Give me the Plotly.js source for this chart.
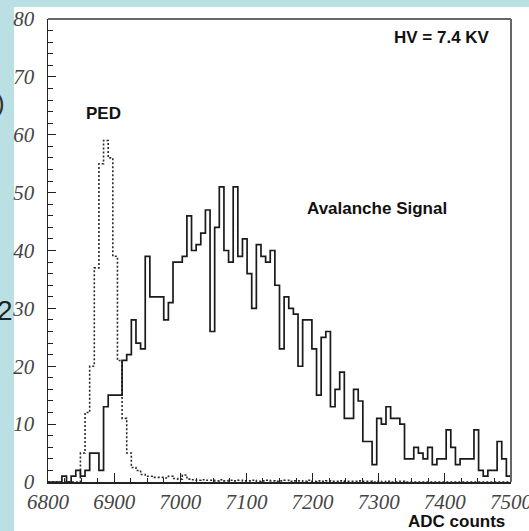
<!DOCTYPE html>
<html><head><meta charset="utf-8">
<script src="https://cdn.plot.ly/plotly-3.0.1.min.js"></script>
<style>html,body{margin:0;padding:0;background:#fff;}#chart{width:529px;height:531px;}</style>
</head><body><div id="chart"></div>
<script>
// ---- data ----
const xMin = 6800;
const binWidth = 7;
const avalancheCounts = [
  0,0,0,1,0,1,2,1,2,5,
  5,2,13,15,15,15,21,22,28,24,
  23,39,32,32,32,28,31,38,38,39,
  46,40,41,43,47,26,44,51,40,38,
  51,39,42,36,30,41,39,38,40,34,
  23,32,30,29,20,28,28,23,15,25,
  26,13,16,19,11,11,16,14,7,7,
  3,11,10,13,11,11,10,4,4,6,
  5,4,6,3,4,4,9,6,3,4,
  4,4,9,2,1,2,2,7,4,1
];
const pedCounts = [
  0,0,0,0,0,0,0,5,12,20,
  37,55,59,56,39,21,11,5,2.5,2,
  1.3,1.0,1.0,0.8,0.8,0.7,1.0,0.6,0.5,1.2,
  0.5,0.4,0.3,0.4,0.3,0.3,0.2,0.4,0.2,0.3,
  0.2,0.3,0.2,0.2,0.3,0.1,0.2,0.3,0.2,0.1,
  0.2,0.3,0.1,0.2,0.2,0.1,0.3,0.1,0.2,0.1,
  0.2,0.1,0.1,0.2,0.1,0.1,0.1,0.2,0.1,0.1,
  0,0.1,0,0.1,0,0,0.1,0,0,0,
  0,0,0,0,0,0,0,0,0,0,
  0,0,0,0,0,0,0,0,0,0
];
const xTickVals = [6800,6900,7000,7100,7200,7300,7400,7500];
const xTickText = ["6800","6900","7000","7100","7200","7300","7400","7500"];
const yTickVals = [0,10,20,30,40,50,60,70,80];
const yTickText = ["0","10","20","30","40","50","60","70","80"];
const labelPED = "PED";
const labelSignal = "Avalanche Signal";
const labelHV = "HV = 7.4 KV";
const labelX = "ADC counts";

// ---- build step histograms ----
function edgesFor(counts){
  const e = counts.map((_, i) => xMin + i*binWidth);
  e.push(xMin + counts.length*binWidth);
  return e;
}
function stepY(counts){ return counts.concat([counts[counts.length-1]]); }

const traces = [
  {x: edgesFor(pedCounts), y: stepY(pedCounts), type:'scatter', mode:'lines',
   line:{shape:'hv', color:'#2a2a2a', width:1.6, dash:'2px,2px'}, hoverinfo:'skip'},
  {x: edgesFor(avalancheCounts), y: stepY(avalancheCounts), type:'scatter', mode:'lines',
   line:{shape:'hv', color:'#1a1a1a', width:1.7}, hoverinfo:'skip'}
];

// pixel helpers for layout placement
const W=529, H=531, L=48, R=18, T=19, B=49;
const pw = W-L-R, ph = H-T-B;
const px = v => (v-L)/pw;
const py = v => (H-B-v)/ph;

const tickFont = {family:'Liberation Serif, Times New Roman, serif', size:21, style:'italic', color:'#444'};
const boldFont = {family:'Liberation Sans, Arial, sans-serif', size:17, weight:'bold', color:'#111'};

const layout = {
  width:W, height:H, autosize:false,
  margin:{l:L, r:R, t:T, b:B, pad:0},
  paper_bgcolor:'#ffffff', plot_bgcolor:'#ffffff',
  showlegend:false,
  xaxis:{range:[6800,7500], showgrid:false, zeroline:false, showline:true,
    linecolor:'#222', linewidth:1.5, ticks:'inside', ticklen:9, tickwidth:1.2, tickcolor:'#222',
    tickmode:'array', tickvals:xTickVals, ticktext:xTickText, tickfont:tickFont,
    ticklabelstandoff:0, ticklabeloverflow:'allow',
    minor:{dtick:25, tick0:6800, ticks:'inside', ticklen:4, tickwidth:1, tickcolor:'#222', showgrid:false},
    fixedrange:true},
  yaxis:{range:[0,80], showgrid:false, zeroline:false, showline:true,
    linecolor:'#222', linewidth:1.5, ticks:'inside', ticklen:8, tickwidth:1.2, tickcolor:'#222',
    tickmode:'array', tickvals:yTickVals, ticktext:yTickText, tickfont:tickFont,
    ticklabelstandoff:8, ticklabeloverflow:'allow',
    minor:{dtick:2, tick0:0, ticks:'inside', ticklen:5, tickwidth:1, tickcolor:'#222', showgrid:false},
    fixedrange:true},
  shapes:[
    {type:'rect', xref:'paper', yref:'paper', x0:px(0), x1:px(14), y0:py(H), y1:py(0),
     fillcolor:'#bbe0e4', line:{width:0}, layer:'below'},
    {type:'rect', xref:'paper', yref:'paper', x0:px(0), x1:px(W), y0:py(7), y1:py(0),
     fillcolor:'#bbe0e4', line:{width:0}, layer:'below'},
    {type:'line', xref:'paper', yref:'paper', x0:0, x1:1, y0:1, y1:1, line:{color:'#666', width:2}},
    {type:'line', xref:'paper', yref:'paper', x0:1, x1:1, y0:0, y1:1, line:{color:'#666', width:2}}
  ],
  annotations:[
    {text:labelPED, x:6884, y:63.6, xref:'x', yref:'y', showarrow:false, xanchor:'center', yanchor:'middle', font:boldFont},
    {text:labelSignal, x:7189, y:47.3, xref:'x', yref:'y', showarrow:false, xanchor:'left', yanchor:'middle', font:boldFont},
    {text:labelHV, x:7471, y:76.8, xref:'x', yref:'y', showarrow:false, xanchor:'right', yanchor:'middle', font:boldFont},
    {text:labelX, x:px(507), y:py(521), xref:'paper', yref:'paper', showarrow:false, xanchor:'right', yanchor:'middle',
     font:{family:'Liberation Sans, Arial, sans-serif', size:17, weight:'bold', color:'#111'}},
    {text:')', x:px(7), y:py(103), xref:'paper', yref:'paper', showarrow:false, xanchor:'right', yanchor:'middle',
     font:{family:'Liberation Sans, Arial, sans-serif', size:26, color:'#333'}},
    {text:'2', x:px(15), y:py(311), xref:'paper', yref:'paper', showarrow:false, xanchor:'right', yanchor:'middle',
     font:{family:'Liberation Sans, Arial, sans-serif', size:28, color:'#222'}}
  ]
};

Plotly.newPlot('chart', traces, layout, {staticPlot:true, displayModeBar:false});
</script>
</body></html>
